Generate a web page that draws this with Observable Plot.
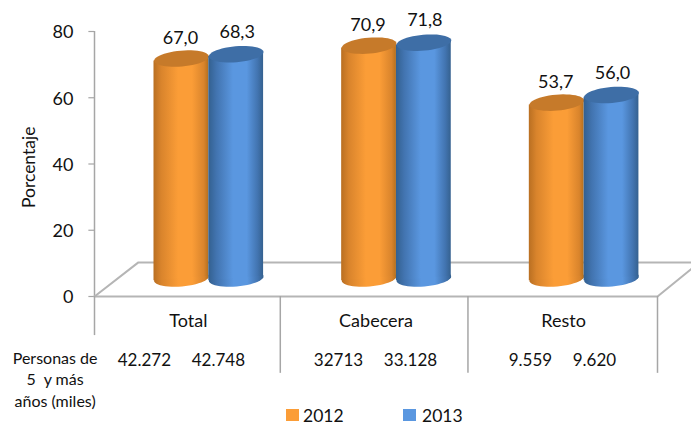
<!DOCTYPE html>
<html><head><meta charset="utf-8">
<script src="https://cdn.jsdelivr.net/npm/d3@7"></script>
<script src="https://cdn.jsdelivr.net/npm/@observablehq/plot@0.6"></script>
<style>
html,body{margin:0;padding:0;background:#fff;width:691px;height:425px;overflow:hidden}
svg{display:block}
#legend{position:relative;height:20px;font:17.5px/18px Lato,sans-serif;color:#111}
#legend i{position:absolute;top:4px;width:13px;height:12px}
#legend span{position:absolute;top:2px}
</style></head><body>
<div id="chart"></div>
<div id="legend"></div>
<script>
const categories = ["Total", "Cabecera", "Resto"];
const years = ["2012", "2013"];
const values2012 = [67.0, 70.9, 53.7];
const values2013 = [68.3, 71.8, 56.0];
const labels2012 = ["67,0", "70,9", "53,7"];
const labels2013 = ["68,3", "71,8", "56,0"];
const persons2012 = ["42.272", "32713", "9.559"];
const persons2013 = ["42.748", "33.128", "9.620"];
const yTicks = [0, 20, 40, 60, 80];

const FONT = "Lato, sans-serif";
const GRAY = "#a6a6a6";
const depthPx = 16;        // cylinders stand back on the floor
const halfW = 0.146;       // half a cylinder, in category units
const centre = 0.609;      // where the pair meets inside a category
const tilt = 0.7;          // slant of the caps, in y units
const base = 0.6;          // foot of the cylinders above the floor line
const personsLeft = [0.266, 0.30, 0.323];   // column centres inside each category
const personsRight = [0.66, 0.684, 0.664];

const rows = [];
categories.forEach((c, i) => {
  rows.push({c, i, year: years[0], v: values2012[i], label: labels2012[i], xc: i + centre - halfW});
  rows.push({c, i, year: years[1], v: values2013[i], label: labels2013[i], xc: i + centre + halfW});
});
const body = rows.flatMap(r => [
  {id: r.c + r.year, year: r.year, x: r.xc - halfW, y1: base - tilt, y2: r.v - tilt},
  {id: r.c + r.year, year: r.year, x: r.xc + halfW, y1: base + tilt, y2: r.v + tilt}
]);

// Cylinder cap: a slightly rotated ellipse, drawn as a Plot dot symbol
const cap = {
  draw(ctx, size) {
    const a = Math.sqrt(size / Math.PI), b = a * 0.29, t = -5 * Math.PI / 180;
    for (let k = 0; k <= 48; k++) {
      const u = k / 48 * 2 * Math.PI;
      const ex = a * Math.cos(u), ey = b * Math.sin(u);
      const px = ex * Math.cos(t) - ey * Math.sin(t), py = ex * Math.sin(t) + ey * Math.cos(t);
      if (k) ctx.lineTo(px, py); else ctx.moveTo(px, py);
    }
    ctx.closePath();
  }
};

function gradients() {
  const ns = "http://www.w3.org/2000/svg";
  const defs = document.createElementNS(ns, "defs");
  const make = (id, stops) => {
    const g = document.createElementNS(ns, "linearGradient");
    g.setAttribute("id", id);
    stops.forEach(([o, col]) => {
      const s = document.createElementNS(ns, "stop");
      s.setAttribute("offset", o); s.setAttribute("stop-color", col);
      g.appendChild(s);
    });
    defs.appendChild(g);
  };
  make("g2012", [[0, "#b96f22"], [0.14, "#d9842c"], [0.45, "#fb9d37"], [0.7, "#fb9d37"], [0.92, "#d9842c"], [1, "#b5701f"]]);
  make("g2013", [[0, "#33608f"], [0.15, "#4274b0"], [0.45, "#5a97e0"], [0.7, "#5a97e0"], [0.9, "#4274b0"], [1, "#35618f"]]);
  return defs;
}

const xLeft = 0, xRight = 3, back = 10.3, skew = 0.234;
const floorBack = [{x: xLeft, y: 0}, {x: xLeft + skew, y: back}, {x: xRight + 0.18, y: back}];
const floorFront = [{x: xLeft, y: 0}, {x: xRight, y: 0}, {x: xRight + 0.18, y: 8.3}];
const dividers = [{x: 0, low: -11.8}, {x: 0.99, low: -23.2}, {x: 1.99, low: -23.2}, {x: 3, low: -23.2}];

const cylinders = yr => {
  const f = `url(#g${yr})`, top = yr === "2012" ? "#c67a2a" : "#3e6ea6";
  const rs = rows.filter(r => r.year === yr);
  const common = {symbol: cap, r: 27.4, dy: -depthPx};
  return [
    Plot.dot(rs, {x: "xc", y: () => base, fill: f, ...common}),
    Plot.areaY(body.filter(b => b.year === yr), {x: "x", y1: "y1", y2: "y2", z: "id", fill: f, dy: -depthPx}),
    Plot.dot(rs, {x: "xc", y: "v", fill: top, ...common})
  ];
};

const plot = Plot.plot({
  width: 691, height: 405,
  marginLeft: 94, marginRight: 34, marginTop: 31, marginBottom: 109,
  style: {fontFamily: FONT, background: "#fff", overflow: "visible"},
  x: {type: "linear", domain: [0, 3], axis: null},
  y: {type: "linear", domain: [0, 80], ticks: yTicks, axis: null},
  marks: [
    gradients,
    Plot.ruleX([0], {y1: 0, y2: 80, stroke: GRAY, strokeWidth: 1.5}),
    Plot.ruleY(yTicks, {x1: -0.03, x2: 0, y: d => d, stroke: GRAY, strokeWidth: 1.2}),
    Plot.text(yTicks, {x: () => 0, y: d => d, dx: -21, dy: 1, textAnchor: "end", fontSize: 18, fill: "#111"}),
    Plot.text(["Porcentaje"], {x: () => -0.345, y: () => 39, rotate: -90, fontSize: 17.5, fill: "#111"}),
    Plot.line(floorBack, {x: "x", y: "y", stroke: "#b5b5b5", strokeWidth: 2}),
    Plot.line(floorFront, {x: "x", y: "y", stroke: "#b5b5b5", strokeWidth: 2}),
    Plot.ruleX(dividers, {x: "x", y1: () => 0, y2: "low", stroke: GRAY, strokeWidth: 1.5}),
    ...cylinders("2012"),
    ...cylinders("2013"),
    Plot.text(rows.filter(r => r.year === years[0]), {x: "xc", y: "v", text: "label", dx: -1, dy: -depthPx - 20, fontSize: 18, fill: "#111"}),
    Plot.text(rows.filter(r => r.year === years[1]), {x: "xc", y: "v", text: "label", dx: 1, dy: -depthPx - 22, fontSize: 18, fill: "#111"}),
    Plot.text(categories, {x: (d, i) => i + 0.5, y: () => 0, text: d => d, dy: 25, fontSize: 18, fill: "#111"}),
    Plot.text(persons2012, {x: (d, i) => i + personsLeft[i], y: () => 0, text: d => d, dy: 64, fontSize: 17, fill: "#111"}),
    Plot.text(persons2013, {x: (d, i) => i + personsRight[i], y: () => 0, text: d => d, dy: 64, fontSize: 17, fill: "#111"}),
    Plot.text(["Personas de\n5  y más\naños (miles)"], {x: () => -0.21, y: () => 0, dy: 82, lineHeight: 1.34, fontSize: 16, fill: "#111"})
  ]
});
document.getElementById("chart").appendChild(plot);

const leg = document.getElementById("legend");
[[286, 303, "#fb9d37", years[0]], [403, 422, "#5a97e0", years[1]]].forEach(([a, b, c, t]) => {
  const i = document.createElement("i"); i.style.left = a + "px"; i.style.background = c; leg.appendChild(i);
  const s = document.createElement("span"); s.style.left = b + "px"; s.textContent = t; leg.appendChild(s);
});
</script></body></html>
